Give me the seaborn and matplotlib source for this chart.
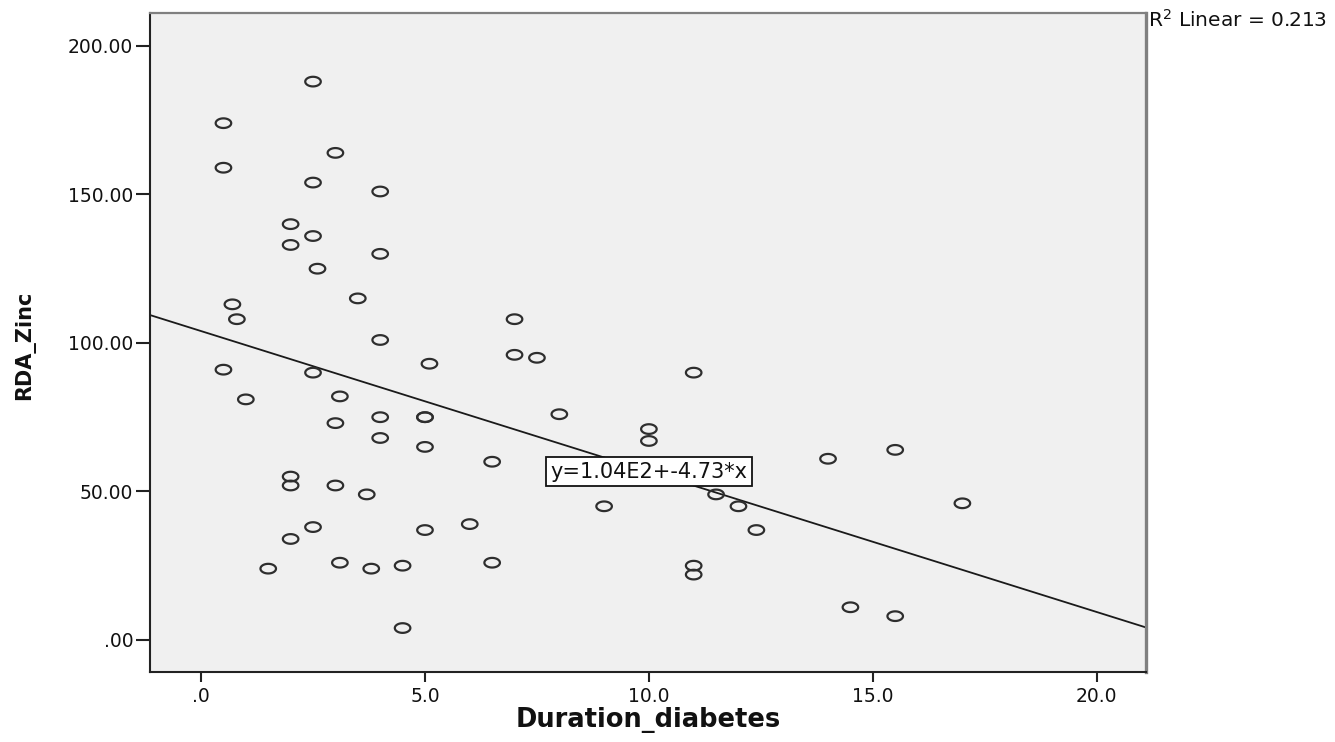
import numpy as np
import pandas as pd
import matplotlib
matplotlib.use("Agg")
import matplotlib.pyplot as plt
from matplotlib.path import Path
from matplotlib.ticker import FixedLocator, FuncFormatter
import seaborn as sns

# ---- data ----
duration_diabetes = [0.5, 0.5, 0.5, 0.7, 0.8, 1.0, 1.5, 2.0, 2.0, 2.0, 2.0, 2.0,
                     2.5, 2.5, 2.5, 2.6, 2.5, 2.5, 3.0, 3.0, 3.0, 3.1, 3.1, 3.5,
                     3.7, 3.8, 4.0, 4.0, 4.0, 4.0, 4.0, 4.5, 4.5, 5.0, 5.0, 5.0,
                     5.0, 5.1, 6.0, 6.5, 6.5, 7.0, 7.0, 7.5, 8.0, 9.0, 10.0, 10.0,
                     11.0, 11.0, 11.0, 11.5, 12.0, 12.4, 14.0, 14.5, 15.5, 15.5, 17.0]
rda_zinc = [174, 159, 91, 113, 108, 81, 24, 140, 133, 55, 52, 34,
            188, 154, 136, 125, 90, 38, 164, 73, 52, 82, 26, 115,
            49, 24, 151, 130, 101, 75, 68, 25, 4, 75, 75, 65,
            37, 93, 39, 60, 26, 108, 96, 95, 76, 45, 71, 67,
            90, 25, 22, 49, 45, 37, 61, 11, 64, 8, 46]

fit_intercept = 104.0
fit_slope = -4.73
fit_label = "y=1.04E2+-4.73*x"
fit_label_x = 10.0
r2_label = "R$^2$ Linear = 0.213"

x_ticks = [0, 5, 10, 15, 20]
y_ticks = [0, 50, 100, 150, 200]
x_label = "Duration_diabetes"
y_label = "RDA_Zinc"

df = pd.DataFrame({x_label: duration_diabetes, y_label: rda_zinc})

# ---- style ----
sns.set_theme(style="white")
plt.rcParams["font.family"] = ["DejaVu Sans"]

fig = plt.figure(figsize=(13.35, 7.42), dpi=100)
ax = fig.add_axes([150 / 1335, 1 - 672 / 742, (1146 - 150) / 1335, (672 - 13) / 742])
ax.set_facecolor("#f0f0f0")

# elliptical hollow marker (wider than tall, as in the reference)
t = np.linspace(0, 2 * np.pi, 60)
ell = Path(np.column_stack([np.cos(t), 0.62 * np.sin(t)]), closed=True)

sns.scatterplot(data=df, x=x_label, y=y_label, ax=ax, marker=ell, s=125,
                color="#333333", linewidth=1.6, zorder=3)
for coll in ax.collections:
    coll.set_facecolor("none")
    coll.set_edgecolor("#2e2e2e")

ax.set_xlim(-1.14, 21.1)
ax.set_ylim(-10.8, 211.1)

ax.axline((0, fit_intercept), slope=fit_slope, color="#1a1a1a", linewidth=1.3, zorder=2)

ax.text(fit_label_x, fit_intercept + fit_slope * fit_label_x, fit_label,
        ha="center", va="center", fontsize=15, color="#111111", zorder=4,
        bbox=dict(boxstyle="square,pad=0.2", facecolor="white", edgecolor="#111111", linewidth=1.3))

fig.text(1148 / 1335, 1 - 20 / 742, r2_label, ha="left", va="center", fontsize=14.5, color="#111111")

# ---- axes, ticks ----
ax.xaxis.set_major_locator(FixedLocator(x_ticks))
ax.yaxis.set_major_locator(FixedLocator(y_ticks))


def fmt(decimals):
    def f(v, pos):
        s = f"{v:.{decimals}f}"
        if s.startswith("0."):
            s = s[1:]
        return s
    return f


ax.xaxis.set_major_formatter(FuncFormatter(fmt(1)))
ax.yaxis.set_major_formatter(FuncFormatter(fmt(2)))
ax.tick_params(axis="x", direction="out", length=7, width=1.5, color="#222222",
               pad=4, labelsize=13.5, labelcolor="#111111", bottom=True)
ax.tick_params(axis="y", direction="out", length=10, width=1.5, color="#222222",
               pad=2, labelsize=13.5, labelcolor="#111111", left=True)

for side in ["left", "bottom"]:
    ax.spines[side].set_color("#222222")
    ax.spines[side].set_linewidth(1.5)
ax.spines["top"].set_color("#808080")
ax.spines["top"].set_linewidth(1.6)
ax.spines["right"].set_color("#808080")
ax.spines["right"].set_linewidth(2.4)

ax.set_xlabel(x_label, fontsize=18.5, fontweight="bold", color="#111111")
ax.xaxis.set_label_coords(0.5, -0.053)
ax.set_ylabel(y_label, fontsize=15, fontweight="bold", color="#111111")
ax.yaxis.set_label_coords(-0.136, 0.495)
ax.yaxis.label.set_verticalalignment("top")

fig.savefig("out.png", dpi=100, facecolor="white")
